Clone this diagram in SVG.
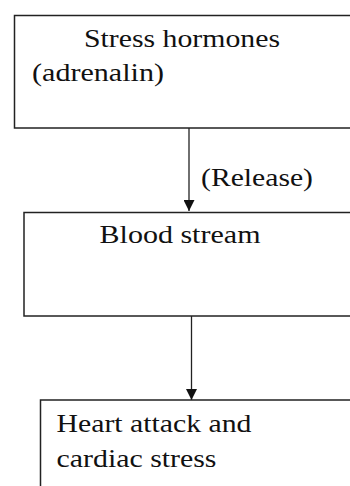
<svg xmlns="http://www.w3.org/2000/svg" width="350" height="486" viewBox="0 0 350 486">
<style>
.box{fill:#fff;stroke:#222;stroke-width:1.5}
.t{font-family:'Liberation Serif','Times New Roman',serif;font-size:26px;fill:#111}
.ln{stroke:#222;stroke-width:1.3;fill:none}
</style>
<defs>
<marker id="ah" markerWidth="11" markerHeight="11" viewBox="0 0 11 11" refX="11" refY="5.5" orient="auto" markerUnits="userSpaceOnUse">
<path d="M0,0 L11,5.5 L0,11 Z" fill="#111"/>
</marker>
</defs>
<rect width="350" height="486" fill="#fff"/>
<g id="connectors">
<line class="ln" x1="189" y1="128" x2="189" y2="211" marker-end="url(#ah)"/>
<line class="ln" x1="191.5" y1="316" x2="191.5" y2="400" marker-end="url(#ah)"/>
<text class="t" x="201" y="186" textLength="112" lengthAdjust="spacingAndGlyphs">(Release)</text>
</g>
<g id="node1">
<rect class="box" x="14.5" y="15.5" width="350" height="112.5"/>
<text class="t" x="84" y="47" textLength="196" lengthAdjust="spacingAndGlyphs">Stress hormones</text>
<text class="t" x="32" y="81" textLength="132" lengthAdjust="spacingAndGlyphs">(adrenalin)</text>
</g>
<g id="node2">
<rect class="box" x="24" y="212.5" width="340" height="103.5"/>
<text class="t" x="99.5" y="243" textLength="161" lengthAdjust="spacingAndGlyphs">Blood stream</text>
</g>
<g id="node3">
<rect class="box" x="40.5" y="400" width="320" height="100"/>
<text class="t" x="56.5" y="432" textLength="195" lengthAdjust="spacingAndGlyphs">Heart attack and</text>
<text class="t" x="56.5" y="467" textLength="160" lengthAdjust="spacingAndGlyphs">cardiac stress</text>
</g>
</svg>
